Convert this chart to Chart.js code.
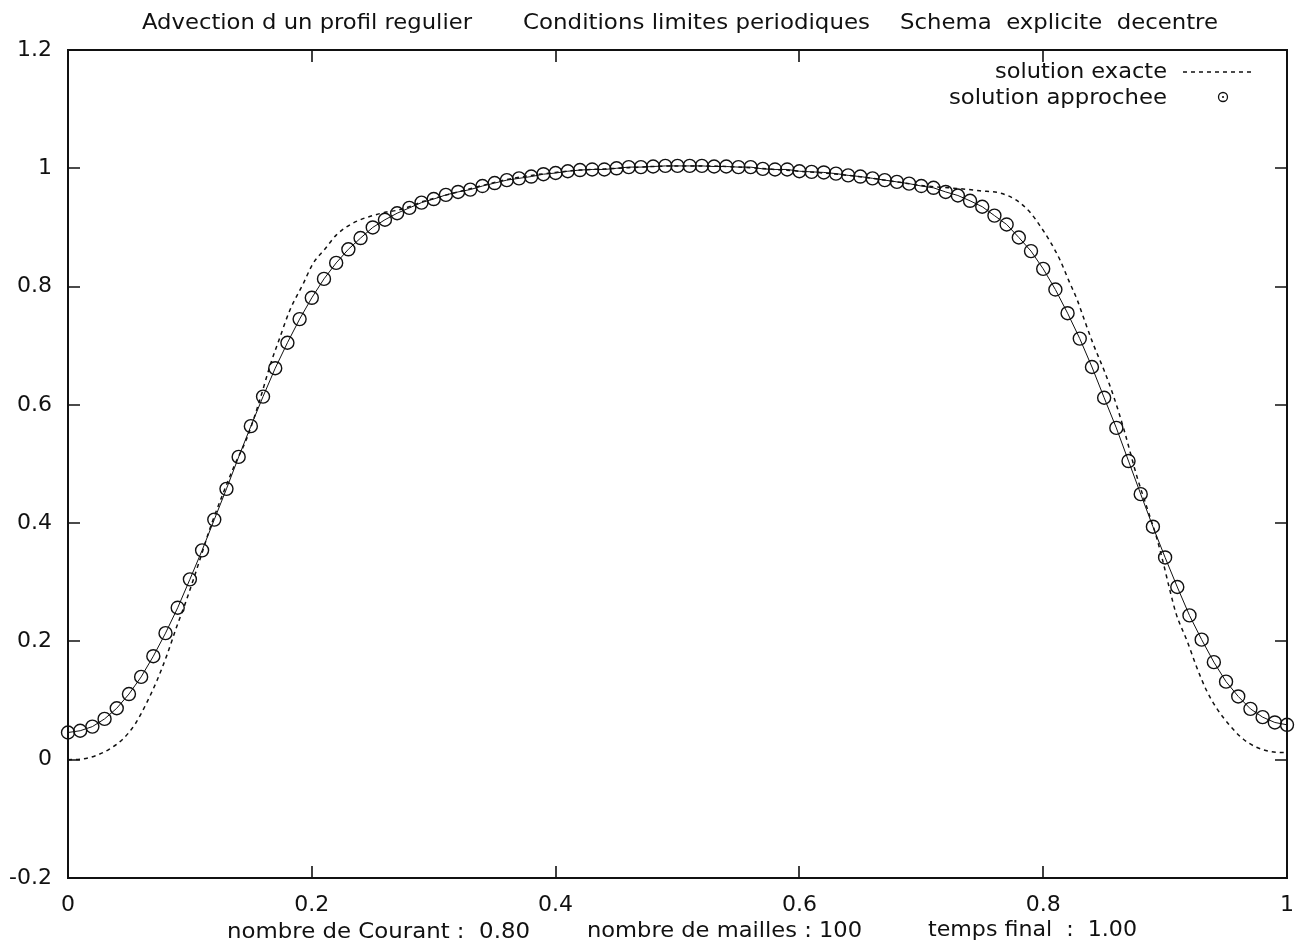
<!DOCTYPE html>
<html>
<head>
<meta charset="utf-8">
<script src="https://cdn.jsdelivr.net/npm/chart.js@4.4.1/dist/chart.umd.min.js"></script>
<style>
  html, body { margin: 0; padding: 0; background: #ffffff; }
  canvas { display: block; }
</style>
</head>
<body>
<canvas id="c" width="1295" height="952"></canvas>
<script>
// ---------- data ----------
const approxX = [0.00,0.01,0.02,0.03,0.04,0.05,0.06,0.07,0.08,0.09,
  0.10,0.11,0.12,0.13,0.14,0.15,0.16,0.17,0.18,0.19,
  0.20,0.21,0.22,0.23,0.24,0.25,0.26,0.27,0.28,0.29,
  0.30,0.31,0.32,0.33,0.34,0.35,0.36,0.37,0.38,0.39,
  0.40,0.41,0.42,0.43,0.44,0.45,0.46,0.47,0.48,0.49,
  0.50,0.51,0.52,0.53,0.54,0.55,0.56,0.57,0.58,0.59,
  0.60,0.61,0.62,0.63,0.64,0.65,0.66,0.67,0.68,0.69,
  0.70,0.71,0.72,0.73,0.74,0.75,0.76,0.77,0.78,0.79,
  0.80,0.81,0.82,0.83,0.84,0.85,0.86,0.87,0.88,0.89,
  0.90,0.91,0.92,0.93,0.94,0.95,0.96,0.97,0.98,0.99,1.00];
const approxY = [0.046,0.049,0.056,0.069,0.087,0.111,0.140,0.175,0.214,0.257,
  0.305,0.354,0.406,0.458,0.512,0.564,0.614,0.662,0.705,0.745,
  0.781,0.813,0.840,0.863,0.882,0.900,0.913,0.924,0.933,0.942,
  0.948,0.955,0.960,0.964,0.970,0.975,0.980,0.983,0.986,0.990,
  0.992,0.995,0.997,0.998,0.998,1.000,1.002,1.002,1.003,1.004,
  1.004,1.004,1.004,1.003,1.003,1.002,1.002,0.999,0.998,0.998,
  0.995,0.994,0.993,0.991,0.988,0.986,0.983,0.980,0.977,0.974,
  0.970,0.967,0.960,0.954,0.945,0.935,0.920,0.905,0.883,0.860,
  0.830,0.795,0.755,0.712,0.664,0.612,0.561,0.505,0.449,0.394,
  0.342,0.292,0.244,0.203,0.165,0.132,0.107,0.086,0.072,0.063,0.059];

const exactX = [0,0.011,0.023,0.034,0.045,0.055,0.064,0.073,0.081,0.089,
  0.097,0.108,0.115,0.118,0.136,0.147,0.157,0.166,0.174,0.182,
  0.193,0.201,0.211,0.220,0.231,0.241,0.250,0.261,0.270,0.280,
  0.290,0.300,0.320,0.340,0.360,0.380,0.400,0.420,0.440,0.460,
  0.480,0.500,0.520,0.540,0.560,0.580,0.600,0.620,0.640,0.660,
  0.680,0.700,0.715,0.729,0.748,0.765,0.778,0.789,0.797,0.806,
  0.814,0.821,0.828,0.833,0.841,0.850,0.858,0.866,0.877,0.885,
  0.893,0.898,0.904,0.909,0.918,0.926,0.934,0.942,0.953,0.964,
  0.975,0.986,0.997,1.000];
const exactY = [0,0.001,0.007,0.018,0.035,0.060,0.094,0.134,0.176,0.224,
  0.269,0.337,0.382,0.400,0.495,0.545,0.606,0.668,0.715,0.760,
  0.805,0.839,0.864,0.887,0.904,0.914,0.920,0.926,0.929,0.935,
  0.943,0.949,0.960,0.971,0.981,0.988,0.993,0.997,0.999,1.001,
  1.003,1.004,1.004,1.003,1.001,0.998,0.995,0.992,0.988,0.983,
  0.977,0.971,0.968,0.966,0.962,0.958,0.946,0.926,0.904,0.875,
  0.844,0.810,0.777,0.748,0.703,0.658,0.613,0.560,0.478,0.427,
  0.376,0.337,0.286,0.247,0.201,0.156,0.117,0.088,0.058,0.035,
  0.021,0.014,0.012,0.012];

const xTickLabels = ['0','0.2','0.4','0.6','0.8','1'];
const yTickLabels = ['-0.2','0','0.2','0.4','0.6','0.8','1','1.2'];

const titleParts = ['Advection d un profil regulier', 'Conditions limites periodiques', 'Schema  explicite  decentre'];
const captionParts = ['nombre de Courant :  0.80', 'nombre de mailles : 100', 'temps final  :  1.00'];
const legendLabels = ['solution exacte', 'solution approchee'];

// ---------- helpers ----------
const FONT = '"DejaVu Sans", "Liberation Sans", Arial, sans-serif';
function fitText(ctx, text, x, y, w, size, align) {
  ctx.save();
  ctx.font = size + 'px ' + FONT;
  ctx.fillStyle = '#111';
  ctx.textBaseline = 'alphabetic';
  ctx.textAlign = 'left';
  const m = ctx.measureText(text).width;
  const sx = w / m;
  const left = align === 'right' ? x - w : x;
  ctx.translate(left, y);
  ctx.scale(sx, 1);
  ctx.fillText(text, 0, 0);
  ctx.restore();
}

const decor = {
  id: 'decor',
  beforeDraw(chart) {
    const ctx = chart.ctx;
    ctx.save();
    ctx.fillStyle = '#fff';
    ctx.fillRect(0, 0, chart.width, chart.height);
    ctx.restore();
  },
  afterDraw(chart) {
    const ctx = chart.ctx;
    const a = chart.chartArea;
    const xs = chart.scales.x, ys = chart.scales.y;
    ctx.save();
    // frame
    ctx.strokeStyle = '#111';
    ctx.lineWidth = 2;
    ctx.strokeRect(a.left, a.top, a.right - a.left, a.bottom - a.top);
    // inward ticks
    const TL = 12;
    ctx.lineWidth = 1.6;
    ctx.beginPath();
    xs.ticks.forEach(t => {
      const px = Math.round(xs.getPixelForValue(t.value));
      ctx.moveTo(px, a.bottom); ctx.lineTo(px, a.bottom - TL);
      ctx.moveTo(px, a.top); ctx.lineTo(px, a.top + TL);
    });
    ys.ticks.forEach(t => {
      const py = Math.round(ys.getPixelForValue(t.value));
      ctx.moveTo(a.left, py); ctx.lineTo(a.left + TL, py);
      ctx.moveTo(a.right, py); ctx.lineTo(a.right - TL, py);
    });
    ctx.stroke();
    ctx.restore();

    // title
    fitText(ctx, titleParts[0], 142, 29, 330, 21);
    fitText(ctx, titleParts[1], 523, 29, 347, 21);
    fitText(ctx, titleParts[2], 900, 29, 318, 21);
    // caption
    fitText(ctx, captionParts[0], 227, 938, 303, 21);
    fitText(ctx, captionParts[1], 587, 937, 275, 21);
    fitText(ctx, captionParts[2], 928, 936, 209, 21);

    // legend
    fitText(ctx, legendLabels[0], 1167, 78, 172, 22, 'right');
    fitText(ctx, legendLabels[1], 1167, 104, 218, 22, 'right');
    ctx.save();
    ctx.strokeStyle = '#111';
    ctx.lineWidth = 1.5;
    ctx.setLineDash([4, 4]);
    ctx.beginPath();
    ctx.moveTo(1183, 72); ctx.lineTo(1251, 72);
    ctx.stroke();
    ctx.setLineDash([]);
    ctx.lineWidth = 1.3;
    ctx.beginPath();
    ctx.arc(1223, 97, 4.5, 0, Math.PI * 2);
    ctx.stroke();
    ctx.beginPath();
    ctx.fillStyle = '#111';
    ctx.arc(1223, 97, 1.1, 0, Math.PI * 2);
    ctx.fill();
    ctx.restore();
  }
};

const exactData = exactX.map((x, i) => ({ x: x, y: exactY[i] }));
const approxData = approxX.map((x, i) => ({ x: x, y: approxY[i] }));

new Chart(document.getElementById('c'), {
  type: 'scatter',
  data: {
    datasets: [
      {
        label: legendLabels[0],
        data: exactData,
        showLine: true,
        borderColor: '#111',
        borderWidth: 1.5,
        borderDash: [4, 4],
        pointRadius: 0,
        cubicInterpolationMode: 'monotone',
        clip: 10
      },
      {
        label: legendLabels[1],
        data: approxData,
        showLine: true,
        borderColor: '#111',
        borderWidth: 1,
        pointRadius: 6.5,
        pointStyle: 'circle',
        pointBorderWidth: 1.4,
        pointBorderColor: '#111',
        pointBackgroundColor: 'rgba(0,0,0,0)',
        tension: 0,
        clip: 10
      }
    ]
  },
  options: {
    responsive: false,
    animation: false,
    devicePixelRatio: 1,
    layout: { padding: { top: 50, right: 8, left: 0, bottom: 0 } },
    plugins: {
      legend: { display: false },
      title: { display: false },
      tooltip: { enabled: false }
    },
    scales: {
      x: {
        type: 'linear',
        min: 0, max: 1,
        grid: { display: false, drawTicks: false },
        border: { display: false },
        ticks: {
          stepSize: 0.2,
          padding: 14,
          color: '#111',
          font: { family: FONT, size: 22 },
          maxRotation: 0,
          autoSkip: false,
          callback: (v, i) => xTickLabels[i]
        },
        afterFit: s => { s.height = 74; s.paddingLeft = 0; s.paddingRight = 0; }
      },
      y: {
        type: 'linear',
        min: -0.2, max: 1.2,
        grid: { display: false, drawTicks: false },
        border: { display: false },
        ticks: {
          stepSize: 0.2,
          padding: 16,
          color: '#111',
          font: { family: FONT, size: 22 },
          autoSkip: false,
          callback: (v, i) => yTickLabels[i]
        },
        afterFit: s => { s.width = 68; s.paddingTop = 0; s.paddingBottom = 0; }
      }
    }
  },
  plugins: [decor]
});
</script>
</body>
</html>
